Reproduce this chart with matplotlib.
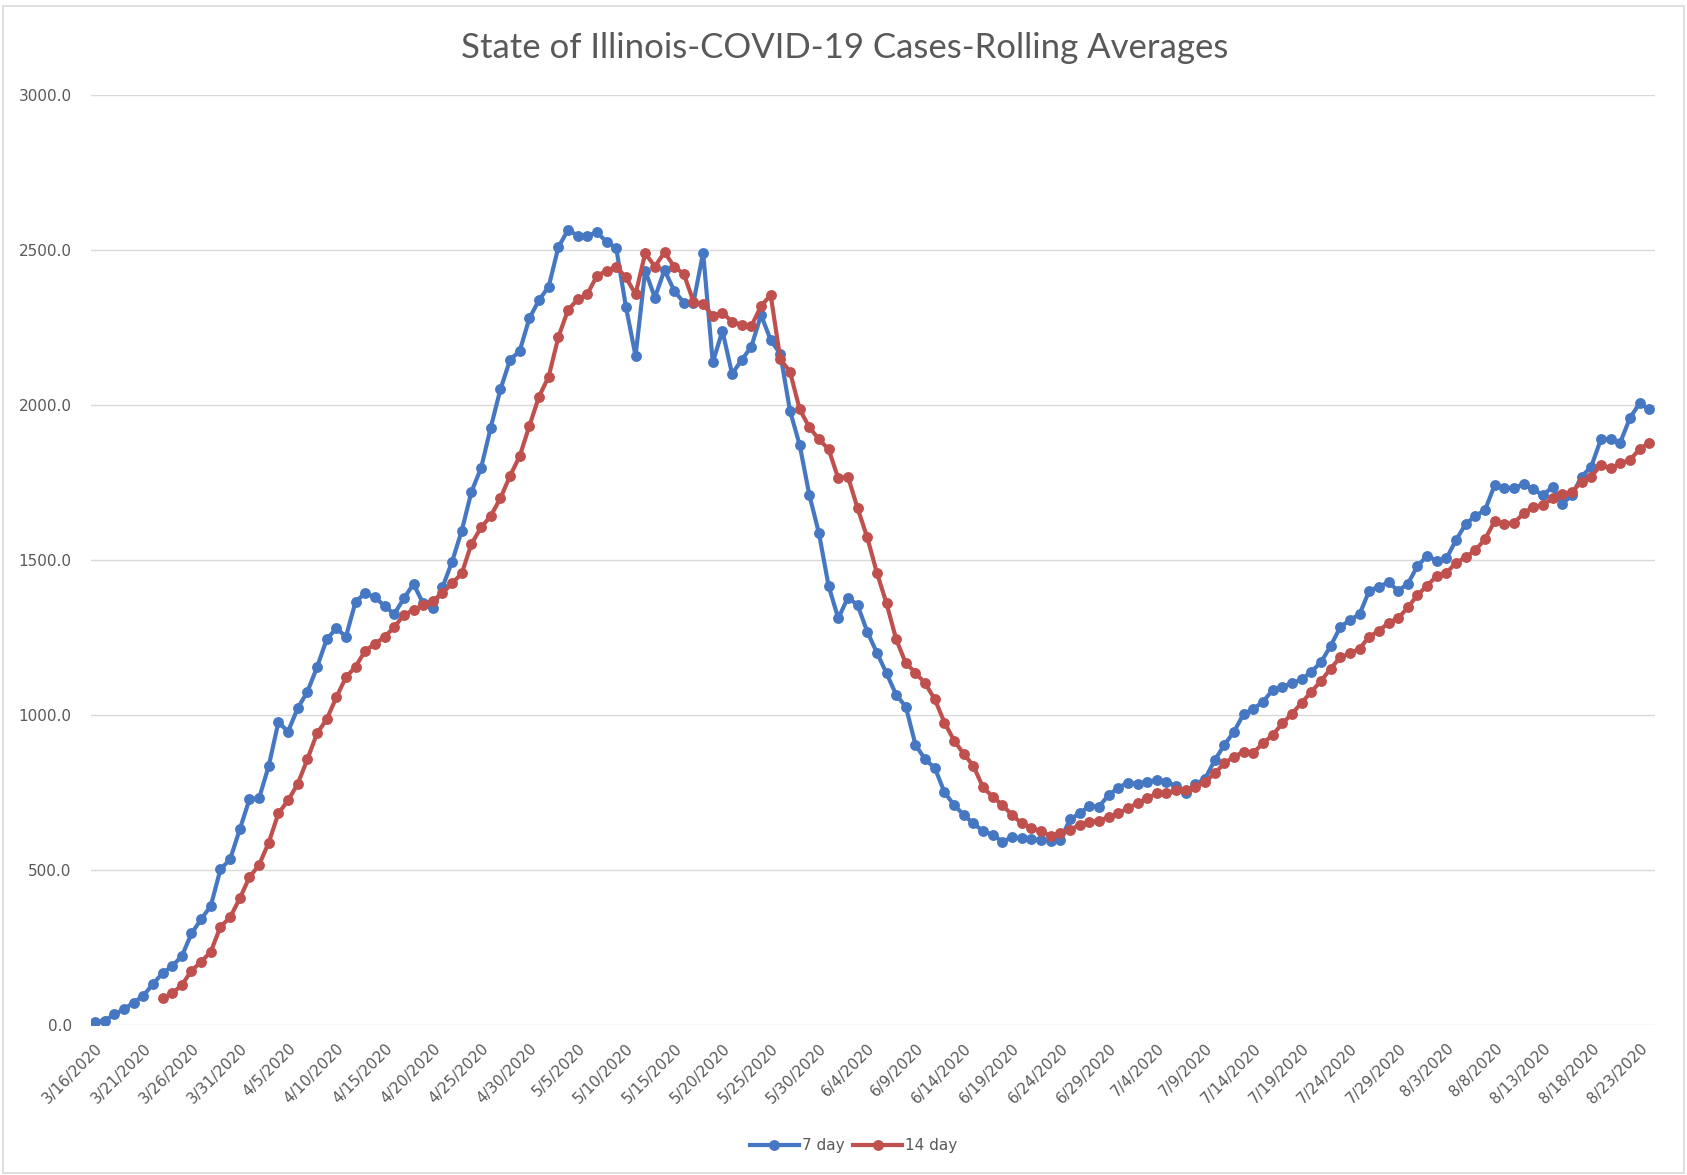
import matplotlib
matplotlib.use("Agg")
import matplotlib.pyplot as plt
import pandas as pd
from matplotlib.patches import Rectangle

# 7 day rolling average, one value per day from 3/16/2020
seven_day = [10, 15, 35, 52, 73, 95, 133, 168, 191, 223,
             296, 342, 385, 503, 535, 632, 728, 732, 836, 977,
             947, 1022, 1075, 1154, 1244, 1280, 1253, 1366, 1393, 1380,
             1352, 1326, 1376, 1423, 1360, 1344, 1412, 1495, 1595, 1720,
             1797, 1927, 2050, 2145, 2174, 2279, 2338, 2381, 2508, 2564,
             2546, 2546, 2556, 2526, 2505, 2317, 2158, 2433, 2346, 2435,
             2368, 2330, 2330, 2491, 2137, 2239, 2100, 2145, 2188, 2290,
             2209, 2164, 1981, 1871, 1710, 1586, 1416, 1312, 1379, 1355,
             1269, 1201, 1135, 1065, 1027, 904, 857, 830, 751, 710,
             678, 651, 626, 614, 592, 606, 603, 600, 597, 594,
             597, 664, 683, 707, 705, 742, 766, 782, 778, 785,
             791, 785, 771, 748, 777, 795, 855, 904, 947, 1004,
             1020, 1043, 1081, 1092, 1102, 1115, 1140, 1170, 1223, 1283,
             1307, 1325, 1401, 1414, 1428, 1401, 1423, 1481, 1513, 1498,
             1505, 1565, 1616, 1642, 1661, 1742, 1731, 1733, 1744, 1728,
             1709, 1736, 1681, 1709, 1769, 1801, 1889, 1889, 1878, 1957,
             2005, 1986]

# 14 day rolling average, starts 3/23/2020
fourteen_start = 7
fourteen_day = [87, 103, 130, 176, 205, 237, 318, 348, 409, 477,
                517, 589, 683, 725, 778, 857, 941, 986, 1057, 1122,
                1156, 1208, 1229, 1253, 1283, 1323, 1339, 1355, 1369, 1393,
                1425, 1457, 1552, 1605, 1642, 1699, 1771, 1835, 1932, 2027,
                2091, 2218, 2306, 2340, 2357, 2416, 2432, 2446, 2411, 2357,
                2489, 2446, 2492, 2446, 2422, 2333, 2325, 2287, 2297, 2268,
                2258, 2254, 2319, 2354, 2147, 2107, 1986, 1928, 1889, 1857,
                1763, 1769, 1667, 1573, 1459, 1360, 1244, 1167, 1137, 1102,
                1051, 976, 918, 875, 836, 767, 737, 710, 678, 651,
                637, 626, 610, 619, 630, 646, 655, 660, 670, 683,
                700, 716, 732, 748, 748, 759, 759, 769, 785, 812,
                845, 866, 882, 879, 909, 936, 973, 1004, 1040, 1075,
                1110, 1150, 1186, 1199, 1214, 1253, 1271, 1298, 1312, 1347,
                1387, 1417, 1449, 1459, 1491, 1509, 1532, 1567, 1626, 1615,
                1620, 1650, 1672, 1677, 1699, 1713, 1720, 1752, 1769, 1806,
                1795, 1812, 1822, 1857, 1878]

series_names = ["7 day", "14 day"]
y_ticks = [0, 500, 1000, 1500, 2000, 2500, 3000]
tick_step = 5

dates = pd.date_range("2020-03-16", periods=len(seven_day), freq="D")
x7 = list(range(len(seven_day)))
x14 = list(range(fourteen_start, fourteen_start + len(fourteen_day)))

blue = "#4677C2"
red = "#C0504D"
grey = "#595959"

fig = plt.figure(figsize=(16.87, 11.75), dpi=100)
ax = fig.add_axes([0.054, 0.1274, 0.927, 0.7920])

ax.plot(x7, seven_day, color=blue, lw=3, marker="o", ms=6.8, label=series_names[0])
ax.plot(x14, fourteen_day, color=red, lw=3, marker="o", ms=6.8, label=series_names[1])

ax.set_ylim(0, 3000)
ax.set_xlim(-0.4, len(seven_day) - 0.4)
ax.set_yticks(y_ticks)
ax.set_yticklabels([f"{v:.1f}" for v in y_ticks], color=grey, fontsize=11)
xt = x7[::tick_step]
ax.set_xticks(xt)
ax.set_xticklabels([f"{d.month}/{d.day}/{d.year}" for d in dates[::tick_step]],
                   rotation=45, ha="right", va="top", rotation_mode="anchor",
                   color=grey, fontsize=11)
ax.tick_params(length=0)
ax.tick_params(axis="y", pad=14)
ax.tick_params(axis="x", pad=11)
ax.grid(axis="y", color="#D9D9D9", lw=1)
ax.set_axisbelow(True)
for s in ax.spines.values():
    s.set_visible(False)

fig.text(0.501, 0.959, "State of Illinois-COVID-19 Cases-Rolling Averages",
         ha="center", va="center", fontsize=25, color=grey, family="Lato")

fig.legend(loc="center", bbox_to_anchor=(0.506, 0.025), ncol=2, frameon=False,
           fontsize=11, labelcolor=grey, handlelength=3.2, columnspacing=0.6,
           handletextpad=0.2)

fig.patches.append(Rectangle((0.002, 0.002), 0.996, 0.993, transform=fig.transFigure,
                             fill=False, edgecolor="#D9D9D9", lw=1.2))

fig.savefig("out.png", dpi=100)
